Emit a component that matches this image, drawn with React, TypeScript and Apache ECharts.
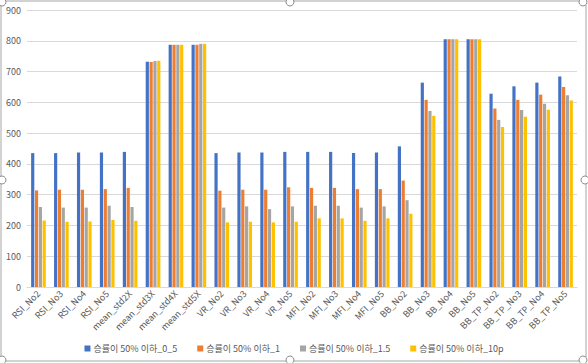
import React, { useEffect, useRef } from "react";
import * as echarts from "echarts";

const categories = [
  "RSI_No2", "RSI_No3", "RSI_No4", "RSI_No5", "mean_std2X", "mean_std3X", "mean_std4X", "mean_std5X",
  "VR_No2", "VR_No3", "VR_No4", "VR_No5", "MFI_No2", "MFI_No3", "MFI_No4", "MFI_No5",
  "BB_No2", "BB_No3", "BB_No4", "BB_No5", "BB_TP_No2", "BB_TP_No3", "BB_TP_No4", "BB_TP_No5",
];
const seriesNames = ["승률이 50% 이하_0_5", "승률이 50% 이하_1", "승률이 50% 이하_1.5", "승률이 50% 이하_10p"];
const s0_5 = [435, 435, 437, 437, 439, 732, 787, 787, 435, 437, 437, 439, 439, 439, 435, 437, 457, 664, 805, 805, 628, 652, 664, 684];
const s1 = [314, 316, 316, 318, 322, 731, 787, 787, 313, 316, 316, 324, 322, 322, 318, 318, 346, 608, 805, 805, 580, 608, 625, 650];
const s1_5 = [260, 258, 258, 264, 260, 734, 787, 790, 258, 262, 253, 262, 264, 264, 258, 262, 282, 572, 805, 805, 543, 575, 595, 623];
const s10p = [216, 212, 213, 218, 215, 735, 787, 790, 210, 212, 210, 212, 223, 223, 215, 223, 238, 556, 805, 805, 520, 553, 576, 606];
const yTicks = { min: 0, max: 900, interval: 100 };
const colors = ["#4472C4", "#ED7D31", "#A5A5A5", "#FFC000"];

export default function App() {
  const ref = useRef<HTMLDivElement>(null);
  useEffect(() => {
    if (!ref.current) return;
    const chart = echarts.init(ref.current, null, { renderer: "svg" });
    const data = [s0_5, s1, s1_5, s10p];
    const font = "'Noto Sans CJK KR', 'Noto Sans', sans-serif";
    chart.setOption({
      animation: false,
      backgroundColor: "#ffffff",
      color: colors,
      grid: { left: 27, right: 11, top: 10, bottom: 76, containLabel: false },
      legend: {
        bottom: 5,
        left: "center",
        itemWidth: 6,
        itemHeight: 6,
        itemGap: 20,
        icon: "rect",
        textStyle: { color: "#595959", fontSize: 9, fontFamily: font, padding: [0, 0, 0, -2] },
        data: seriesNames,
      },
      xAxis: {
        type: "category",
        data: categories,
        axisLine: { lineStyle: { color: "#d9d9d9" } },
        axisTick: { show: false },
        axisLabel: { rotate: 45, interval: 0, color: "#595959", fontSize: 9, fontFamily: font, margin: 5 },
      },
      yAxis: {
        type: "value",
        min: yTicks.min,
        max: yTicks.max,
        interval: yTicks.interval,
        axisLine: { show: false },
        axisTick: { show: false },
        splitLine: { lineStyle: { color: "#d9d9d9" } },
        axisLabel: { color: "#595959", fontSize: 9, fontFamily: font, margin: 6 },
      },
      series: seriesNames.map((name, i) => ({
        name,
        type: "bar",
        data: data[i],
        barGap: "20%",
        barCategoryGap: "36%",
        itemStyle: { color: colors[i] },
      })),
      graphic: [
        { type: "rect", shape: { x: 1, y: 1, width: 585, height: 360, r: 4 }, style: { fill: "none", stroke: "#a6a6a6", lineWidth: 1 }, silent: true },
        ...[[2, 2], [290, 2], [583, 2], [2, 180], [585, 180], [2, 360], [290, 360], [583, 360]].map(([x, y]) => ({
          type: "circle",
          shape: { cx: x, cy: y, r: 4 },
          style: { fill: "#ffffff", stroke: "#8c8c8c", lineWidth: 1 },
          silent: true,
        })),
      ],
    });
    return () => chart.dispose();
  }, []);
  return <div ref={ref} style={{ position: "absolute", left: 0, top: 0, width: 588, height: 363 }} />;
}
